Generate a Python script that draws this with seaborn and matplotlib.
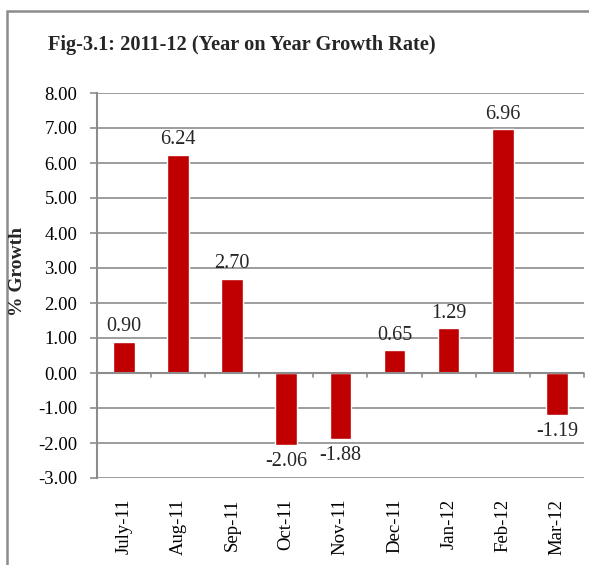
import matplotlib
matplotlib.use("Agg")
import matplotlib.pyplot as plt
import pandas as pd
import seaborn as sns
from matplotlib.patches import Rectangle

# Monthly year-on-year growth, 2011-12
months = ['July-11', 'Aug-11', 'Sep-11', 'Oct-11', 'Nov-11', 'Dec-11', 'Jan-12', 'Feb-12', 'Mar-12']
growth = [0.90, 6.24, 2.70, -2.06, -1.88, 0.65, 1.29, 6.96, -1.19]
yticks = [-3, -2, -1, 0, 1, 2, 3, 4, 5, 6, 7, 8]

df = pd.DataFrame({'month': months, 'growth': growth})

sns.set_theme(style="white")
plt.rcParams['font.family'] = ['Liberation Serif', 'DejaVu Serif']

W, H = 589, 565
fig = plt.figure(figsize=(W / 100, H / 100), dpi=100)
ax = fig.add_axes([96.7 / W, 1 - 478 / H, (584 - 96.7) / W, (478 - 93) / H])

grey = '#8c8c8c'
sns.barplot(data=df, x='month', y='growth', color='#c00000', saturation=1,
            width=0.4, ax=ax, zorder=3)

ax.set_ylim(-3, 8)
ax.set_xlim(-0.5, len(months) - 0.5)
ax.set_yticks(yticks)
ax.set_yticklabels([f'{v:.2f}' for v in yticks], fontsize=13.5, color='black')
ax.yaxis.grid(True, color=grey, linewidth=1.2, zorder=0)
ax.set_axisbelow(True)
ax.tick_params(axis='y', which='both', left=True, length=5, width=1.2, color=grey, pad=9)

# x labels under the chart, rotated
ax.set_xticks(range(len(months)))
ax.set_xticklabels(months, rotation=90, fontsize=13.5, color='black')
ax.tick_params(axis='x', length=0, pad=15)

for s in ['top', 'right', 'bottom']:
    ax.spines[s].set_visible(False)
ax.spines['left'].set_color(grey)
ax.spines['left'].set_linewidth(1.5)

# category axis at zero with boundary ticks
ax.axhline(0, color=grey, linewidth=1.5, zorder=4)
for b in range(len(months) + 1):
    ax.plot([b - 0.5, b - 0.5], [0, -0.12], color=grey, linewidth=1.2, zorder=4, clip_on=False)

# bar value labels
for i, v in enumerate(growth):
    if v >= 0:
        ax.text(i, v + 0.15, f'{v:.2f}', ha='center', va='bottom', fontsize=14.5)
    else:
        ax.text(i, v - 0.2, f'{v:.2f}', ha='center', va='top', fontsize=14.5)

ax.set_xlabel('')
ax.set_ylabel('')
fig.text(18 / W, 1 - 271 / H, '% Growth', fontsize=14, fontweight='bold',
         rotation=90, ha='center', va='center')

fig.text(48 / W, 1 - 45 / H, 'Fig-3.1: 2011-12 (Year on Year Growth Rate)',
         fontsize=14.7, fontweight='bold', ha='left', va='center')

# outer chart frame
fig.patches.append(Rectangle((7 / W, -0.1), 1.2, 1 - 11 / H + 0.1, transform=fig.transFigure,
                             fill=False, edgecolor=grey, linewidth=1.8))

fig.savefig('out.png', dpi=100)
